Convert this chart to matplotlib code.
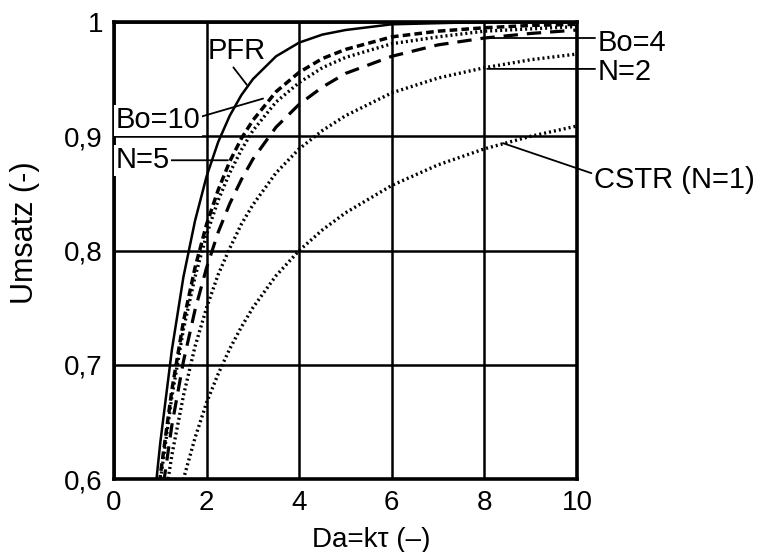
import matplotlib
matplotlib.use("Agg")
import matplotlib.pyplot as plt

plt.rcParams["font.family"] = ["Liberation Sans", "DejaVu Sans"]

# Damköhler number (x) and conversion curves
da = [0.8, 0.9, 1, 1.25, 1.5, 1.75, 2, 2.25, 2.5, 2.75, 3, 3.5, 4, 4.5, 5,
      6, 7, 8, 9, 10]
x_pfr = [0.551, 0.593, 0.632, 0.713, 0.777, 0.826, 0.865, 0.895, 0.918, 0.936,
         0.950, 0.970, 0.982, 0.989, 0.993, 0.998, 0.999, 1.0, 1.0, 1.0]
x_bo10 = [0.528, 0.567, 0.603, 0.678, 0.738, 0.785, 0.823, 0.853, 0.878, 0.898,
          0.914, 0.939, 0.956, 0.968, 0.976, 0.987, 0.992, 0.995, 0.997, 0.998]
x_n5 = [0.524, 0.563, 0.598, 0.672, 0.731, 0.777, 0.814, 0.844, 0.868, 0.888,
        0.905, 0.930, 0.947, 0.960, 0.969, 0.981, 0.987, 0.992, 0.994, 0.996]
x_bo4 = [0.506, 0.543, 0.576, 0.647, 0.703, 0.748, 0.785, 0.816, 0.841, 0.862,
         0.880, 0.908, 0.928, 0.943, 0.955, 0.970, 0.980, 0.986, 0.990, 0.993]
x_n2 = [0.490, 0.524, 0.556, 0.621, 0.673, 0.716, 0.750, 0.779, 0.802, 0.823,
        0.840, 0.868, 0.889, 0.905, 0.918, 0.938, 0.951, 0.960, 0.967, 0.972]
x_cstr = [0.444, 0.474, 0.500, 0.556, 0.600, 0.636, 0.667, 0.692, 0.714, 0.733,
          0.750, 0.778, 0.800, 0.818, 0.833, 0.857, 0.875, 0.889, 0.900, 0.909]

xticks = [0, 2, 4, 6, 8, 10]
yticks = [0.6, 0.7, 0.8, 0.9, 1.0]
ytick_labels = ["0,6", "0,7", "0,8", "0,9", "1"]

fig = plt.figure(figsize=(7.59, 5.52), dpi=100)
ax = fig.add_axes([0.1502, 0.1322, 0.6100, 0.8279])

dots = (0, (0.6, 0.9))
ax.plot(da, x_pfr, color="black", lw=1.8, ls="-")
ax.plot(da, x_bo10, color="black", lw=2.5, ls=(0, (2.2, 1.2)))
ax.plot(da, x_n5, color="black", lw=2.4, ls=dots)
ax.plot(da, x_bo4, color="black", lw=2.3, ls=(0, (4.5, 2.8)))
ax.plot(da, x_n2, color="black", lw=2.4, ls=dots)
ax.plot(da, x_cstr, color="black", lw=2.4, ls=dots)

ax.set_xlim(0, 10)
ax.set_ylim(0.6, 1.0)
ax.set_xticks(xticks)
ax.set_xticklabels([str(t) for t in xticks])
ax.set_yticks(yticks)
ax.set_yticklabels(ytick_labels)
ax.tick_params(labelsize=20, length=0, pad=8)
ax.grid(True, color="black", lw=1.8)
for s in ax.spines.values():
	s.set_linewidth(2.6)

ax.set_xlabel("Da=k\u03c4 (\u2013)", fontsize=20)
ax.xaxis.set_label_coords(0.555, -0.104)
ax.set_ylabel("Umsatz (-)", fontsize=22)
ax.yaxis.set_label_coords(-0.16, 0.54)

def lead(rel=(0.5, 0.5)):
	return dict(arrowstyle="-", color="black", lw=1.3, shrinkA=0, shrinkB=0,
		relpos=rel)

fs = 21
ax.annotate("PFR", xy=(2.87, 0.945), xytext=(2.03, 0.968), fontsize=fs,
	va="baseline", ha="left", arrowprops=lead((0.4, 0.0)),
	annotation_clip=False)
ax.annotate("Bo=10", xy=(3.22, 0.933), xytext=(0.03, 0.914), fontsize=fs,
	va="center", ha="left", arrowprops=lead((1.0, 0.62)),
	annotation_clip=False,
	bbox=dict(boxstyle="square,pad=0.05", fc="white", ec="none"))
ax.annotate("N=5", xy=(2.46, 0.879), xytext=(0.03, 0.879), fontsize=fs,
	va="center", ha="left", arrowprops=lead((1.0, 0.5)),
	annotation_clip=False,
	bbox=dict(boxstyle="square,pad=0.05", fc="white", ec="none"))
ax.annotate("Bo=4", xy=(8.06, 0.986), xytext=(10.45, 0.9816), fontsize=fs,
	va="center", ha="left", arrowprops=lead((0.0, 0.68)),
	annotation_clip=False)
ax.annotate("N=2", xy=(8.06, 0.959), xytext=(10.45, 0.9565), fontsize=fs,
	va="center", ha="left", arrowprops=lead((0.0, 0.6)),
	annotation_clip=False)
ax.annotate("CSTR (N=1)", xy=(8.4, 0.894), xytext=(10.37, 0.862), fontsize=fs,
	va="center", ha="left", arrowprops=lead((0.0, 0.7)),
	annotation_clip=False)

fig.savefig("out.png", dpi=100)
